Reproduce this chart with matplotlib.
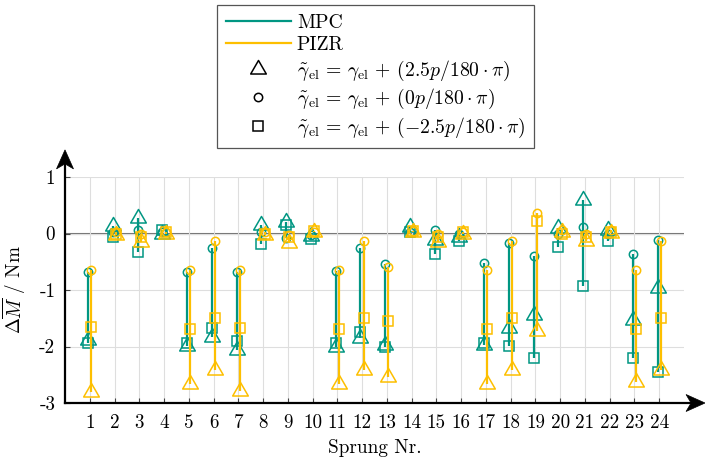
import matplotlib
matplotlib.use("Agg")
import matplotlib.pyplot as plt
import numpy as np
from matplotlib.lines import Line2D
from matplotlib.patches import Polygon
from matplotlib.path import Path
from matplotlib.transforms import ScaledTranslation

plt.rcParams["font.family"] = "serif"
plt.rcParams["font.serif"] = ["cmr10"]
plt.rcParams["mathtext.fontset"] = "cm"
plt.rcParams["axes.unicode_minus"] = False
plt.rcParams["axes.formatter.use_mathtext"] = True

# Sprung number (jump index)
sprung = list(range(1, 25))

# MPC torque deviation for the three angle offsets (+2.5, 0, -2.5)
mpc_plus = [-1.88, 0.14, 0.28, 0.00, -1.99, -1.84, -2.07, 0.15, 0.21, -0.05, -2.01, -1.85,
            -1.97, 0.11, -0.11, -0.06, -1.97, -1.68, -1.45, 0.10, 0.59, 0.07, -1.53, -0.97]
mpc_zero = [-0.68, 0.03, 0.06, 0.03, -0.69, -0.25, -0.68, 0.03, -0.08, -0.02, -0.67, -0.25,
            -0.54, 0.03, 0.07, 0.00, -0.53, -0.16, -0.39, 0.00, 0.11, 0.00, -0.37, -0.12]
mpc_minus = [-1.93, -0.07, -0.32, 0.07, -1.93, -1.68, -1.91, -0.18, 0.15, -0.10, -1.93, -1.75,
             -2.00, 0.02, -0.37, -0.14, -1.93, -1.99, -2.21, -0.24, -0.93, -0.13, -2.21, -2.46]

# PIZR torque deviation for the same offsets
pizr_plus = [-2.80, -0.02, -0.15, 0.00, -2.66, -2.42, -2.78, -0.03, -0.16, 0.02, -2.66, -2.42,
             -2.54, 0.02, -0.15, 0.00, -2.66, -2.42, -1.72, 0.02, -0.13, 0.01, -2.63, -2.42]
pizr_zero = [-0.64, 0.03, 0.00, 0.03, -0.65, -0.14, -0.65, 0.03, -0.03, 0.02, -0.64, -0.13,
             -0.59, 0.05, 0.00, 0.03, -0.65, -0.14, 0.36, 0.06, 0.00, 0.06, -0.65, -0.14]
pizr_minus = [-1.66, 0.00, -0.06, 0.02, -1.69, -1.50, -1.68, 0.00, -0.06, 0.04, -1.69, -1.50,
              -1.55, 0.04, -0.06, 0.02, -1.69, -1.50, 0.22, 0.00, -0.06, 0.03, -1.69, -1.50]

y_ticks = [-3, -2, -1, 0, 1]
y_tick_labels = ["-3", "-2", "-1", "0", "1"]

TEAL = "#009682"
YELLOW = "#fdbf00"
FS = 13.8
LEG_FS = 14.2

# equilateral triangle centred on its circumcentre
tri_marker = Path([(0, 1), (-0.866, -0.5), (0.866, -0.5), (0, 1)],
                  [Path.MOVETO, Path.LINETO, Path.LINETO, Path.CLOSEPOLY])
marker_styles = [(tri_marker, 13), ("o", 6), ("s", 6.5)]

fig = plt.figure(figsize=(7.05, 4.66), dpi=100)
ax = fig.add_axes([65 / 705, 63 / 466, 619 / 705, 226 / 466])
ax.set_xlim(0, 25)
ax.set_ylim(-3, 1)

# grid and zero reference
ax.set_xticks(sprung)
ax.set_xticklabels([str(s) for s in sprung], fontsize=FS)
ax.set_yticks(y_ticks)
ax.set_yticklabels(y_tick_labels, fontsize=FS)
ax.grid(True, color="#dedede", linewidth=0.8, zorder=0)
ax.axhline(0, color="#747474", linewidth=1.5, zorder=1)
ax.tick_params(axis="both", direction="in", length=3.5, width=0.8, color="#444444")
ax.tick_params(axis="x", pad=8)
ax.tick_params(axis="y", pad=7)

x = np.array(sprung, dtype=float)
series = [
    (TEAL, -0.07, [mpc_plus, mpc_zero, mpc_minus]),
    (YELLOW, 0.06, [pizr_plus, pizr_zero, pizr_minus]),
]
z = 3
for color, dx, vals in series:
    arr = np.array(vals)
    ax.vlines(x + dx, arr.min(axis=0), arr.max(axis=0), color=color, linewidth=1.6, zorder=z)
    for v, (m, ms) in zip(vals, marker_styles):
        ax.plot(x + dx, v, linestyle="none", marker=m, markersize=ms, markerfacecolor="none",
                markeredgecolor=color, markeredgewidth=1.1, zorder=z + 0.5, clip_on=False)
    z += 1

# axis lines with arrow heads
for s in ax.spines.values():
    s.set_visible(False)
y_tip = 1.12
x_tip = 1.034
ax.plot([0, 0], [0, y_tip - 0.03], transform=ax.transAxes, color="black", linewidth=1.6,
        clip_on=False, zorder=6)
ax.plot([0, x_tip - 0.015], [0, 0], transform=ax.transAxes, color="black", linewidth=1.6,
        clip_on=False, zorder=6)
up_head = [(0, 0), (-8.5, -19), (0, -14), (8.5, -19)]
right_head = [(0, 0), (-19, 8.5), (-14, 0), (-19, -8.5)]
for verts, (xa, ya) in [(up_head, (0, y_tip)), (right_head, (x_tip, 0))]:
    head = Polygon(verts, closed=True, facecolor="black", edgecolor="black", linewidth=0.5,
                   transform=ScaledTranslation(xa, ya, ax.transAxes), clip_on=False, zorder=7)
    fig.add_artist(head)

ax.set_xlabel("Sprung Nr.", fontsize=FS, labelpad=5)
ax.set_ylabel(r"$\Delta\overline{M}$ / Nm", fontsize=FS, labelpad=8)

# legend
handles = [
    Line2D([], [], color=TEAL, linewidth=1.6),
    Line2D([], [], color=YELLOW, linewidth=1.6),
    Line2D([], [], linestyle="none", marker=tri_marker, markersize=13, markerfacecolor="none",
           markeredgecolor="black", markeredgewidth=1.1),
    Line2D([], [], linestyle="none", marker="o", markersize=6, markerfacecolor="none",
           markeredgecolor="black", markeredgewidth=1.1),
    Line2D([], [], linestyle="none", marker="s", markersize=6.5, markerfacecolor="none",
           markeredgecolor="black", markeredgewidth=1.1),
]
labels = [
    "MPC",
    "PIZR",
    r"$\tilde{\gamma}_{\mathrm{el}} \,=\, \gamma_{\mathrm{el}} \,+\, (2.5p/180 \cdot \pi)$",
    r"$\tilde{\gamma}_{\mathrm{el}} \,=\, \gamma_{\mathrm{el}} \,+\, (0p/180 \cdot \pi)$",
    r"$\tilde{\gamma}_{\mathrm{el}} \,=\, \gamma_{\mathrm{el}} \,+\, (-2.5p/180 \cdot \pi)$",
]
leg = fig.legend(handles, labels, loc="upper left", bbox_to_anchor=(217 / 705, 1 - 5 / 466),
                 bbox_transform=fig.transFigure, borderaxespad=0, fontsize=LEG_FS,
                 handlelength=3.3, handletextpad=0.3, labelspacing=0.22, borderpad=0.45,
                 fancybox=False, framealpha=1, edgecolor="#555555")
leg.get_frame().set_linewidth(0.9)

fig.savefig("out.png", dpi=100)
